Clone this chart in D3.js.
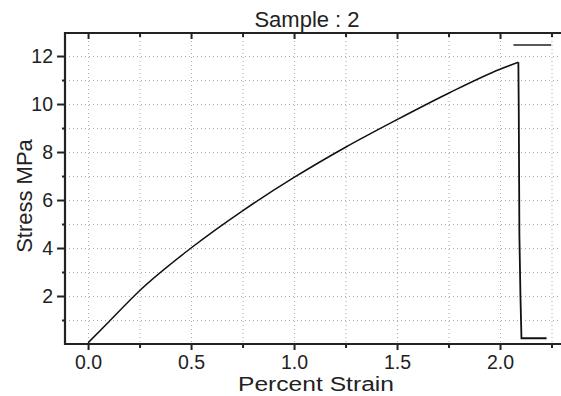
<!DOCTYPE html>
<html>
<head>
<meta charset="utf-8">
<script src="https://cdn.jsdelivr.net/npm/d3@7"></script>
<style>
  body { margin: 0; background: #fff; }
  svg { display: block; font-family: 'Liberation Sans', Arial, sans-serif; }
</style>
</head>
<body>
<div class="graph"></div>
<script>
// chart data //
let strain = [0, 0.1, 0.25, 0.5, 0.75, 1.0, 1.25, 1.5, 1.75, 2.0, 2.089, 2.091, 2.094, 2.099, 2.104, 2.226];
let stress = [0.05, 0.92, 2.22, 4.0, 5.55, 6.94, 8.2, 9.35, 10.45, 11.45, 11.74, 9.68, 4.54, 2.04, 0.24, 0.24];
let peakIndex = 10;

// short marker line at the top right
let markerX = [2.065, 2.248];
let markerY = [12.46, 12.46];

let xMajor = [0, 0.5, 1.0, 1.5, 2.0];
let xMinor = [0.25, 0.75, 1.25, 1.75, 2.25];
let yMajor = [2, 4, 6, 8, 10, 12];
let yMinor = [1, 3, 5, 7, 9, 11];

// sizes //
let w = 561;
let h = 396;
let pLeft = 65, pRight = 561, pTop = 33, pBottom = 344;

let svg = d3.select('.graph')
    .append('svg')
    .attr('width', w)
    .attr('height', h);

let xScale = d3.scaleLinear()
    .domain([-0.112, 2.296])
    .range([pLeft, pRight]);

let yScale = d3.scaleLinear()
    .domain([0, 12.96])
    .range([pBottom, pTop]);

// grid //
let grid = svg.append('g')
    .attr('stroke', '#a8a8a8')
    .attr('stroke-width', 1)
    .attr('stroke-dasharray', '1,3');

grid.selectAll('.vgrid')
    .data(xMajor.concat(xMinor))
    .enter()
    .append('line')
    .attr('x1', d => xScale(d) + 0.5)
    .attr('x2', d => xScale(d) + 0.5)
    .attr('y1', pTop)
    .attr('y2', pBottom);

grid.selectAll('.hgrid')
    .data(yMajor.concat(yMinor))
    .enter()
    .append('line')
    .attr('y1', d => Math.round(yScale(d)) + 0.5)
    .attr('y2', d => Math.round(yScale(d)) + 0.5)
    .attr('x1', pLeft)
    .attr('x2', pRight);

// axes //
let fmt = d3.format('.1f');

let xAxis = d3.axisBottom(xScale)
    .tickValues(xMajor)
    .tickFormat(fmt)
    .tickSize(6)
    .tickPadding(5);

let xAxisMinor = d3.axisBottom(xScale)
    .tickValues(xMinor)
    .tickFormat('')
    .tickSize(4);

let topAxis = d3.axisBottom(xScale)
    .tickValues(xMajor)
    .tickFormat('')
    .tickSize(6);

let topAxisMinor = d3.axisBottom(xScale)
    .tickValues(xMinor)
    .tickFormat('')
    .tickSize(4);

let yAxis = d3.axisLeft(yScale)
    .tickValues(yMajor)
    .tickSize(8)
    .tickPadding(4);

let yAxisMinor = d3.axisLeft(yScale)
    .tickValues(yMinor)
    .tickFormat('')
    .tickSize(3);

function styleAxis(g) {
    g.select('.domain').remove();
    g.selectAll('.tick line').attr('stroke', '#222').attr('stroke-width', 2);
    g.selectAll('.tick text')
        .attr('fill', '#222')
        .style('font-size', '19.5px')
        .style('font-family', "'Liberation Sans', Arial, sans-serif");
}

svg.append('g')
    .attr('transform', 'translate(0,' + pBottom + ')')
    .call(xAxis)
    .call(styleAxis);

svg.append('g')
    .attr('transform', 'translate(0,' + pBottom + ')')
    .call(xAxisMinor)
    .call(styleAxis);

svg.append('g')
    .attr('transform', 'translate(0,' + pTop + ')')
    .call(topAxis)
    .call(styleAxis);

svg.append('g')
    .attr('transform', 'translate(0,' + pTop + ')')
    .call(topAxisMinor)
    .call(styleAxis);

svg.append('g')
    .attr('transform', 'translate(' + pLeft + ',0)')
    .call(yAxis)
    .call(styleAxis);

svg.append('g')
    .attr('transform', 'translate(' + pLeft + ',0)')
    .call(yAxisMinor)
    .call(styleAxis);

// frame lines (left, bottom, top) //
let frame = svg.append('g').attr('stroke', '#222').attr('stroke-width', 2.2);
frame.append('line').attr('x1', pLeft).attr('x2', pLeft).attr('y1', pTop - 1).attr('y2', pBottom + 1);
frame.append('line').attr('x1', pLeft).attr('x2', pRight).attr('y1', pBottom).attr('y2', pBottom);
frame.append('line').attr('x1', pLeft).attr('x2', pRight).attr('y1', pTop).attr('y2', pTop);

// curve: smooth rising part, straight drop after fracture //
let points = strain.map((s, i) => [s, stress[i]]);

let smooth = d3.line()
    .x(d => xScale(d[0]))
    .y(d => yScale(d[1]))
    .curve(d3.curveMonotoneX);

let straight = d3.line()
    .x(d => xScale(d[0]))
    .y(d => yScale(d[1]));

svg.append('path')
    .datum(points.slice(0, peakIndex + 1))
    .attr('d', smooth)
    .attr('fill', 'none')
    .attr('stroke', '#111')
    .attr('stroke-width', 1.5);

svg.append('path')
    .datum(points.slice(peakIndex))
    .attr('d', straight)
    .attr('fill', 'none')
    .attr('stroke', '#111')
    .attr('stroke-width', 1.8);

svg.append('path')
    .datum(markerX.map((m, i) => [m, markerY[i]]))
    .attr('d', straight)
    .attr('fill', 'none')
    .attr('stroke', '#222')
    .attr('stroke-width', 1.6);

// labels //
svg.append('text')
    .attr('x', (pLeft + pRight) / 2 - 6)
    .attr('y', 27)
    .attr('text-anchor', 'middle')
    .attr('fill', '#222')
    .style('font-size', '22px')
    .text('Sample : 2');

svg.append('text')
    .attr('x', 316)
    .attr('y', 391)
    .attr('text-anchor', 'middle')
    .attr('fill', '#222')
    .attr('textLength', 156)
    .attr('lengthAdjust', 'spacingAndGlyphs')
    .style('font-size', '20px')
    .text('Percent Strain');

svg.append('text')
    .attr('transform', 'translate(32,196) rotate(-90)')
    .attr('text-anchor', 'middle')
    .attr('fill', '#222')
    .style('font-size', '22px')
    .text('Stress MPa');
</script>
</body>
</html>
